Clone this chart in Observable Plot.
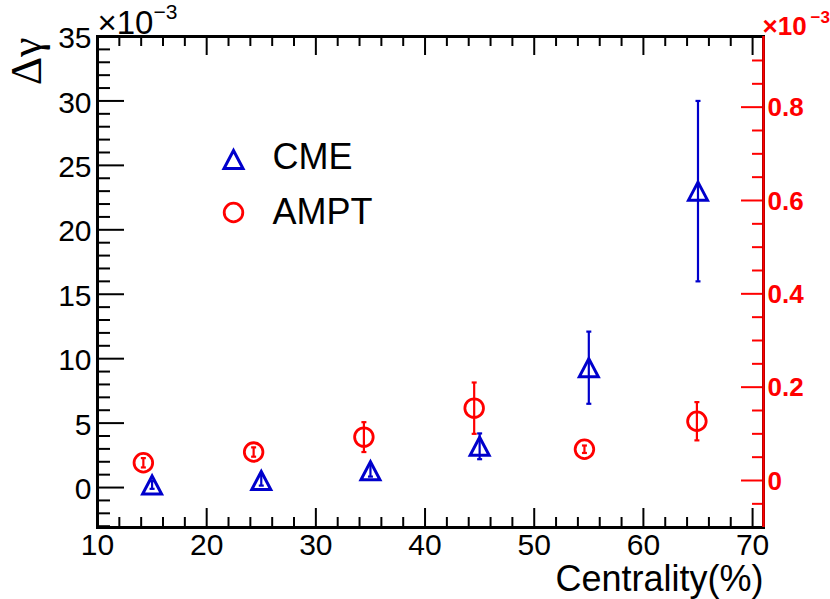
<!DOCTYPE html>
<html><head><meta charset="utf-8">
<script src="https://cdn.jsdelivr.net/npm/d3@7"></script>
<script src="https://cdn.jsdelivr.net/npm/@observablehq/plot@0.6"></script>
<style>html,body{margin:0;padding:0;background:#fff;} svg{display:block}</style>
</head><body><div id="chart"></div>
<script>
// ---- data ----
const cmeX = [15, 25, 35, 45, 55, 65];
const cmeY = [0.2, 0.55, 1.3, 3.2, 9.3, 23.0];
const cmeErr = [0.3, 0.4, 0.45, 1.0, 2.8, 7.0];
const amptX = [14.2, 24.3, 34.4, 44.5, 54.6, 64.9];
const amptY = [0.038, 0.061, 0.093, 0.155, 0.067, 0.127];
const amptErr = [0.01, 0.01, 0.032, 0.055, 0.008, 0.041];
const seriesNames = ["CME", "AMPT"];
const xTicks = [10, 20, 30, 40, 50, 60, 70];
const leftTicks = [0, 5, 10, 15, 20, 25, 30, 35];
const rightTicks = [0, 0.2, 0.4, 0.6, 0.8];
const rightTickLabels = ["0", "0.2", "0.4", "0.6", "0.8"];
const xDomain = [10, 71];
const leftDomain = [-3.1, 35];
const rightDomain = [-0.1007, 0.9514];

// ---- layout ----
const width = 830, height = 599;
const mL = 97, mR = 67, mT = 36, mB = 72;
const W = width - mL - mR, H = height - mT - mB;
const blue = "#0000cc", red = "#ff0000";
const font = "'Liberation Sans', Arial, Helvetica, sans-serif";

const toLeft = d3.scaleLinear().domain(rightDomain).range(leftDomain);

const cme = cmeX.map((x, i) => ({x, y: cmeY[i], e: cmeErr[i]}));
const ampt = amptX.map((x, i) => ({x, y: toLeft(amptY[i]), lo: toLeft(amptY[i] - amptErr[i]), hi: toLeft(amptY[i] + amptErr[i])}));

const xMinor = d3.range(12, 71, 2).filter(v => v % 10 !== 0);
const leftMinor = d3.range(-3, 35, 1).filter(v => v % 5 !== 0);
const rightMinor = d3.range(-1, 19, 1).filter(k => k % 4 !== 0).map(k => k * 0.05);

const triUp = {draw(ctx, size) { const r = Math.sqrt(size / Math.PI); const h = r * 0.95; ctx.moveTo(-r, h); ctx.lineTo(r, h); ctx.lineTo(0, -h); ctx.closePath(); }};
const capSym = {draw(ctx, size) { const r = Math.sqrt(size / Math.PI); ctx.moveTo(-r, 0); ctx.lineTo(r, 0); }};

const chart = Plot.plot({
  width, height,
  marginLeft: mL, marginRight: mR, marginTop: mT, marginBottom: mB,
  style: {fontFamily: font, background: "white"},
  x: {domain: xDomain, axis: null},
  y: {domain: leftDomain, axis: null},
  marks: [
    // ticks left
    Plot.tickY(leftTicks, {y: d => d, insetRight: W - 27, stroke: "black", strokeWidth: 2}),
    Plot.tickY(leftMinor, {y: d => d, insetRight: W - 13, stroke: "black", strokeWidth: 2}),
    // ticks bottom
    Plot.tickX(xTicks, {x: d => d, insetTop: H - 19, stroke: "black", strokeWidth: 2}),
    Plot.tickX(xMinor, {x: d => d, insetTop: H - 10, stroke: "black", strokeWidth: 2}),
    // ticks top
    Plot.tickX(xTicks, {x: d => d, insetBottom: H - 19, stroke: "black", strokeWidth: 2}),
    Plot.tickX(xMinor, {x: d => d, insetBottom: H - 10, stroke: "black", strokeWidth: 2}),
    // ticks right (red)
    Plot.tickY(rightTicks, {y: d => toLeft(d), insetLeft: W - 22, stroke: red, strokeWidth: 2}),
    Plot.tickY(rightMinor, {y: d => toLeft(d), insetLeft: W - 11, stroke: red, strokeWidth: 2}),
    Plot.frame({stroke: "black", strokeWidth: 3}),
    Plot.ruleX([xDomain[1]], {stroke: red, strokeWidth: 2.5}),
    // tick labels
    Plot.text(leftTicks, {y: d => d, text: d => String(d), frameAnchor: "left", dx: -6, dy: 2, textAnchor: "end", fontSize: 30, fill: "black"}),
    Plot.text(xTicks, {x: d => d, text: d => String(d), frameAnchor: "bottom", dy: 6, lineAnchor: "top", fontSize: 30, fill: "black"}),
    Plot.text(rightTicks, {y: d => toLeft(d), text: (d, i) => rightTickLabels[i], frameAnchor: "right", dx: 4, dy: 1, textAnchor: "start", fontSize: 26, fontWeight: "bold", fill: red}),
    // exponents
    Plot.text(["×10"], {frameAnchor: "top-left", dx: 0, dy: -3, textAnchor: "start", lineAnchor: "bottom", fontSize: 33, fill: "black"}),
    Plot.text(["−3"], {frameAnchor: "top-left", dx: 56, dy: -18, textAnchor: "start", lineAnchor: "bottom", fontSize: 21, fill: "black"}),
    Plot.text(["×10"], {frameAnchor: "top-right", dx: -1, dy: -2, textAnchor: "start", lineAnchor: "bottom", fontSize: 26, fontWeight: "bold", fill: red}),
    Plot.text(["−3"], {frameAnchor: "top-right", dx: 47, dy: -14, textAnchor: "start", lineAnchor: "bottom", fontSize: 17, fontWeight: "bold", fill: red}),
    // axis titles
    Plot.text(["Δγ"], {frameAnchor: "top-left", dx: -57, dy: 1, rotate: -90, textAnchor: "end", lineAnchor: "bottom", fontSize: 44, fontFamily: "'Liberation Serif', 'DejaVu Serif', serif", fill: "black"}),
    Plot.text(["Centrality(%)"], {frameAnchor: "bottom-right", dx: 0, dy: 63, textAnchor: "end", lineAnchor: "bottom", fontSize: 36, fill: "black"}),
    // CME error bars
    Plot.ruleX(cme, {x: "x", y1: d => d.y - d.e, y2: d => d.y + d.e, stroke: blue, strokeWidth: 2.2}),
    Plot.dot(cme, {x: "x", y: d => d.y - d.e, symbol: capSym, r: 2.5, stroke: blue, strokeWidth: 2.2}),
    Plot.dot(cme, {x: "x", y: d => d.y + d.e, symbol: capSym, r: 2.5, stroke: blue, strokeWidth: 2.2}),
    Plot.dot(cme, {x: "x", y: "y", symbol: triUp, r: 9.5, stroke: blue, strokeWidth: 3, fill: "none"}),
    // AMPT error bars
    Plot.ruleX(ampt, {x: "x", y1: "lo", y2: "hi", stroke: red, strokeWidth: 2.2}),
    Plot.dot(ampt, {x: "x", y: "lo", symbol: capSym, r: 2.5, stroke: red, strokeWidth: 2.2}),
    Plot.dot(ampt, {x: "x", y: "hi", symbol: capSym, r: 2.5, stroke: red, strokeWidth: 2.2}),
    Plot.dot(ampt, {x: "x", y: "y", r: 9.3, stroke: red, strokeWidth: 2.8, fill: "none"}),
    // legend
    Plot.dot([seriesNames[0]], {frameAnchor: "top-left", dx: 136, dy: 123, symbol: triUp, r: 9.5, stroke: blue, strokeWidth: 3, fill: "none"}),
    Plot.dot([seriesNames[1]], {frameAnchor: "top-left", dx: 136, dy: 176, r: 9.3, stroke: red, strokeWidth: 2.8, fill: "none"}),
    Plot.text([seriesNames[0]], {frameAnchor: "top-left", dx: 175, dy: 121, text: d => d, textAnchor: "start", lineAnchor: "middle", fontSize: 36, fill: "black"}),
    Plot.text([seriesNames[1]], {frameAnchor: "top-left", dx: 175, dy: 175.5, text: d => d, textAnchor: "start", lineAnchor: "middle", fontSize: 36, fill: "black"})
  ]
});
document.getElementById("chart").appendChild(chart);
</script>
</body></html>
